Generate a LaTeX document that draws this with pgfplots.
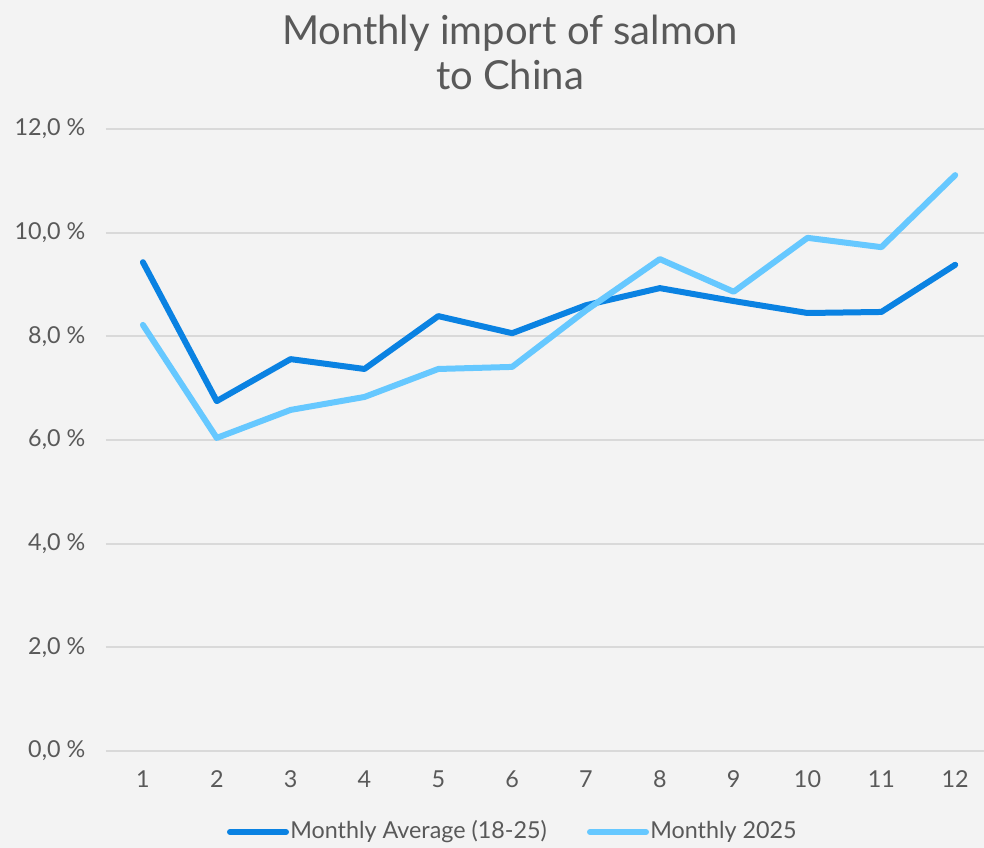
\documentclass[border=0pt]{standalone}
\usepackage{pgfplots}
\pgfplotsset{compat=1.18}
\usepackage{fontspec}
\setmainfont{Lato}
\definecolor{bg}{HTML}{F3F3F3}
\definecolor{txt}{HTML}{595959}
\definecolor{grid}{HTML}{D9D9D9}
\definecolor{dark}{HTML}{0A82E2}
\definecolor{light}{HTML}{66C8FF}
\begin{document}
\begin{tikzpicture}
\fill[bg] (-79.5pt,-72.75pt) rectangle (658.5pt,563.25pt);
\useasboundingbox (-79.5pt,-72.75pt) rectangle (658.5pt,563.25pt);
\begin{axis}[
  at={(0,0)}, anchor=south west,
  scale only axis, width=658.5pt, height=466.5pt,
  xmin=0.5, xmax=12.39, ymin=0, ymax=12,
  axis line style={draw=none},
  ytick={0,2,...,12},
  yticklabels={{0,0 \%},{2,0 \%},{4,0 \%},{6,0 \%},{8,0 \%},{10,0 \%},{12,0 \%}},
  xtick={1,...,12},
  tick style={draw=none},
  xmajorgrids=false,
  ymajorgrids, y grid style={grid, line width=1.5pt},
  ticklabel style={font=\fontsize{17.5}{21}\selectfont, text=txt},
  yticklabel style={xshift=-12pt},
  xticklabel style={yshift=-11pt},
  /pgf/number format/assume math mode=true,
  clip=false,
]
\addplot[dark, line width=4.5pt, line cap=round, line join=round] coordinates {
(1,9.43) (2,6.75) (3,7.56) (4,7.37) (5,8.39) (6,8.06) (7,8.60) (8,8.93) (9,8.68) (10,8.45) (11,8.47) (12,9.38)};
\addplot[light, line width=4.5pt, line cap=round, line join=round] coordinates {
(1,8.22) (2,6.04) (3,6.58) (4,6.83) (5,7.37) (6,7.41) (7,8.50) (8,9.49) (9,8.86) (10,9.90) (11,9.72) (12,11.11)};
\end{axis}
\node[text=txt, font=\fontsize{30}{34}\selectfont, align=center] at (303pt,524pt) {Monthly import of salmon\\to China};
% legend
\draw[dark, line width=4.5pt, line cap=round] (93pt,-60.75pt) -- (135pt,-60.75pt);
\node[text=txt, font=\fontsize{17.5}{21}\selectfont, anchor=west, inner sep=0pt] at (138pt,-60.75pt) {Monthly Average (18-25)};
\draw[light, line width=4.5pt, line cap=round] (363pt,-60.75pt) -- (405pt,-60.75pt);
\node[text=txt, font=\fontsize{17.5}{21}\selectfont, anchor=west, inner sep=0pt] at (408pt,-60.75pt) {Monthly 2025};
\end{tikzpicture}
\end{document}
